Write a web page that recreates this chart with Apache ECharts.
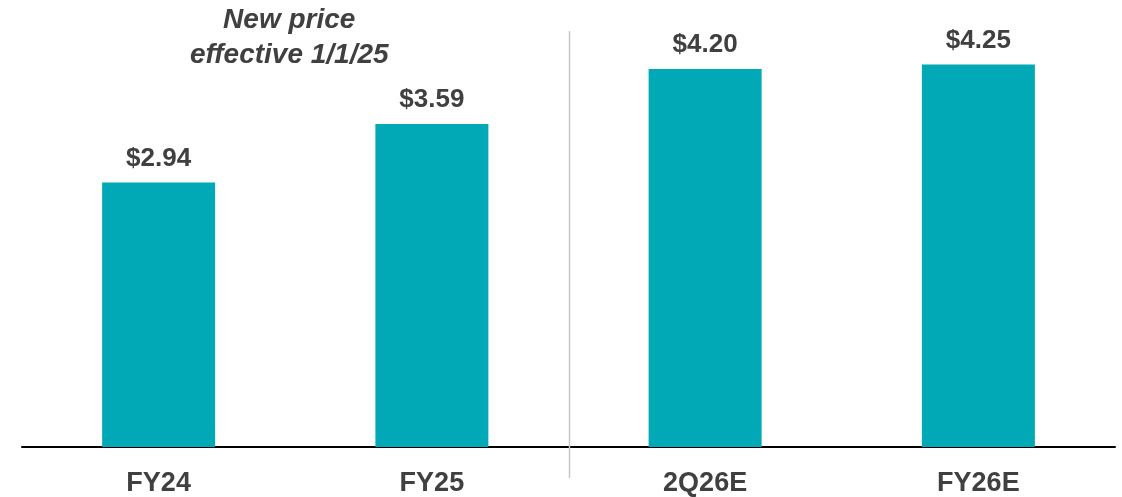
<!DOCTYPE html>
<html>
<head>
<meta charset="utf-8">
<script src="https://cdn.jsdelivr.net/npm/echarts@6/dist/echarts.min.js"></script>
<style>
  html, body { margin: 0; padding: 0; background: #fff; }
  #chart { width: 1122px; height: 497px; }
</style>
</head>
<body>
<div id="chart"></div>
<script>
// categories and values
const categories = ["FY24", "FY25", "2Q26E", "FY26E"];
const prices = [2.94, 3.59, 4.20, 4.25];
const noteLines = ["New price", "effective 1/1/25"];

const textColor = "#404040";
const barColor = "#00a9b5";

var myChart = echarts.init(document.getElementById("chart"));
let option = {
  animation: false,
  grid: { left: 22, right: 7, top: 42, bottom: 48 },
  xAxis: {
    type: "category",
    data: categories,
    axisLine: { lineStyle: { color: "#000", width: 2 } },
    axisTick: { show: false },
    axisLabel: {
      margin: 23,
      color: textColor,
      fontSize: 27,
      fontWeight: "bold",
      fontFamily: "Liberation Sans, Arial, sans-serif"
    }
  },
  yAxis: {
    type: "value",
    min: 0,
    max: 4.5,
    show: false
  },
  series: [
    {
      type: "bar",
      data: prices,
      barWidth: 113,
      itemStyle: { color: barColor },
      label: {
        show: true,
        position: "top",
        distance: 11,
        color: textColor,
        fontSize: 26,
        fontWeight: "bold",
        fontFamily: "Liberation Sans, Arial, sans-serif",
        formatter: p => "$" + p.value.toFixed(2)
      }
    }
  ]
};
myChart.setOption(option);

// divider between actuals and estimates, at the category boundary
let x0 = myChart.convertToPixel({ xAxisIndex: 0 }, categories[0]);
let x1 = myChart.convertToPixel({ xAxisIndex: 0 }, categories[1]);
let x2 = myChart.convertToPixel({ xAxisIndex: 0 }, categories[2]);
let xDiv = Math.round((x1 + x2) / 2) + 0.5;
myChart.setOption({
  graphic: [
    {
      type: "line",
      shape: { x1: xDiv, y1: 31, x2: xDiv, y2: 478 },
      style: { stroke: "#c8c8c8", lineWidth: 1.5 },
      z: 10
    },
    {
      type: "text",
      x: (x0 + x1) / 2 - 6,
      y: 3,
      style: {
        text: noteLines.join("\n"),
        align: "center",
        verticalAlign: "top",
        fill: textColor,
        font: "italic bold 28px 'Liberation Sans', Arial, sans-serif",
        lineHeight: 35
      }
    }
  ]
});
</script>
</body>
</html>
